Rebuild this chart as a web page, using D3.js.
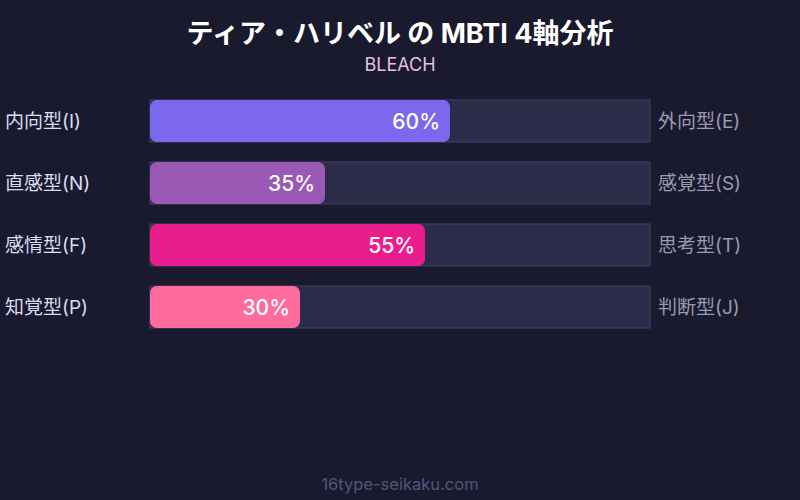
<!DOCTYPE html>
<html><head><meta charset="utf-8">
<script src="https://cdn.jsdelivr.net/npm/d3@7"></script>
<style>html,body{margin:0;padding:0;background:#1a1a2e;}svg{display:block;}</style>
</head><body>
<svg id="c" width="800" height="500"></svg>
<script>
const leftLabels = ["内向型(I)", "直感型(N)", "感情型(F)", "知覚型(P)"];
const rightLabels = ["外向型(E)", "感覚型(S)", "思考型(T)", "判断型(J)"];
const values = [60, 35, 55, 30];
const colors = ["#7b68ee", "#9b59b6", "#e91e8c", "#ff6b9d"];
const title = "ティア・ハリベル の MBTI 4軸分析";
const subtitle = "BLEACH";
const footer = "16type-seikaku.com";

const font = "Inter, 'Noto Sans CJK JP', sans-serif";
const svg = d3.select("#c");
svg.append("rect").attr("width",800).attr("height",500).attr("fill","#1a1a2e");

svg.append("text").attr("x",400).attr("y",43).attr("text-anchor","middle")
  .attr("fill","#ffffff").attr("font-family",font).attr("font-size",27).attr("font-weight","bold").text(title);
svg.append("text").attr("x",400).attr("y",71).attr("text-anchor","middle")
  .attr("fill","#e8c0e0").attr("font-family",font).attr("font-size",18).text(subtitle);
svg.append("text").attr("x",400).attr("y",490).attr("text-anchor","middle")
  .attr("fill","#55557a").attr("font-family",font).attr("font-size",16.5).text(footer);

const x = d3.scaleLinear().domain([0,100]).range([150,650]);
const y = d3.scaleBand().domain(d3.range(values.length)).range([100,328]).paddingInner(20/62).paddingOuter(0);

const rows = svg.selectAll("g.row").data(values).enter().append("g").attr("class","row");
rows.append("rect")
  .attr("x", x(0)).attr("y",(d,i)=>y(i)).attr("width", x(100)-x(0)).attr("height", y.bandwidth())
  .attr("fill","#2d2b4a").attr("stroke","#454366").attr("stroke-width",1);
rows.append("rect")
  .attr("x", x(0)).attr("y",(d,i)=>y(i)).attr("width", d=>x(d)-x(0)).attr("height", y.bandwidth())
  .attr("rx",7).attr("ry",7).attr("fill",(d,i)=>colors[i]);
rows.append("text")
  .attr("x", d=>x(d)-10).attr("y",(d,i)=>y(i)+y.bandwidth()/2).attr("dy","0.36em")
  .attr("text-anchor","end").attr("fill","#ffffff").attr("font-family",font)
  .attr("font-size",21).attr("font-weight",500).text(d=>d+"%");
rows.append("text")
  .attr("x",5).attr("y",(d,i)=>y(i)+y.bandwidth()/2).attr("dy","0.36em")
  .attr("fill","#dcdcf0").attr("font-family",font).attr("font-size",19).text((d,i)=>leftLabels[i]);
rows.append("text")
  .attr("x",658).attr("y",(d,i)=>y(i)+y.bandwidth()/2).attr("dy","0.36em")
  .attr("fill","#9a9ab0").attr("font-family",font).attr("font-size",19).text((d,i)=>rightLabels[i]);
</script>
</body></html>
